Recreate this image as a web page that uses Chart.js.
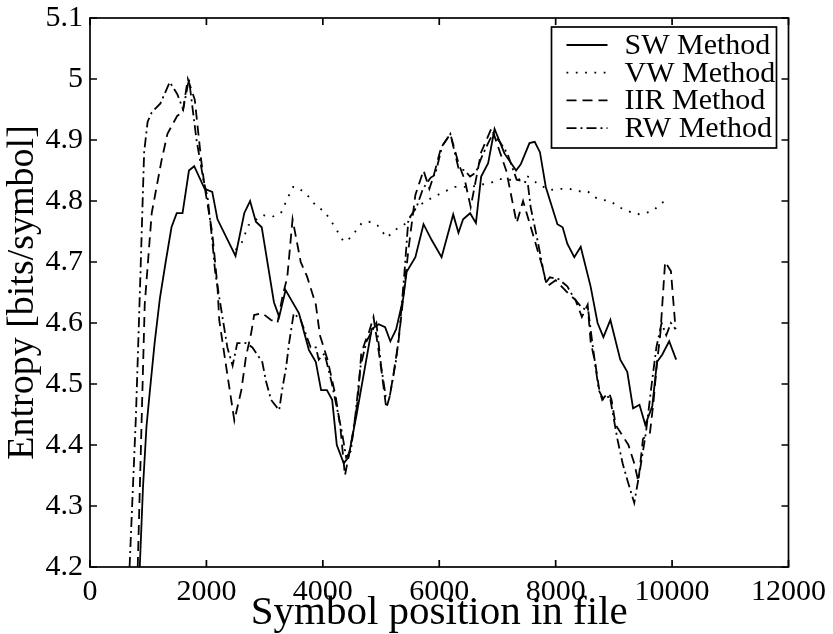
<!DOCTYPE html>
<html>
<head>
<meta charset="utf-8">
<title>Entropy vs symbol position</title>
<script src="https://cdn.jsdelivr.net/npm/chart.js@4.4.1/dist/chart.umd.min.js"></script>
<style>
  html, body { margin: 0; padding: 0; background: #fff; }
  #wrap { width: 833px; height: 634px; }
</style>
</head>
<body>
<div id="wrap"><canvas id="chart" width="833" height="634"></canvas></div>
<script>
// --- data ---
const xTicks = [0, 2000, 4000, 6000, 8000, 10000, 12000];
const xTickLabels = ['0', '2000', '4000', '6000', '8000', '10000', '12000'];
const yTicks = [4.2, 4.3, 4.4, 4.5, 4.6, 4.7, 4.8, 4.9, 5.0, 5.1];
const yTickLabels = ['4.2', '4.3', '4.4', '4.5', '4.6', '4.7', '4.8', '4.9', '5', '5.1'];

const seriesNames = ['SW Method', 'VW Method', 'IIR Method', 'RW Method'];

const swX = [855, 910, 970, 1030, 1110, 1200, 1300, 1400, 1490, 1590,
  1700, 1790, 1970, 2100, 2190, 2500, 2650, 2750, 2850, 2950,
  3160, 3250, 3360, 3590, 3760, 3880, 3970, 4070, 4160, 4240,
  4360, 4440, 4580, 4840, 4960, 5070, 5160, 5260, 5380, 5440,
  5590, 5730, 5870, 6040, 6240, 6330, 6410, 6530, 6630, 6720,
  6840, 6950, 7120, 7320, 7400, 7550, 7640, 7730, 7830, 8030,
  8120, 8200, 8320, 8430, 8600, 8720, 8820, 8940, 9110, 9230,
  9330, 9440, 9540, 9660, 9740, 9830, 9950, 10070];
const swY = [4.2, 4.33, 4.43, 4.49, 4.567, 4.64, 4.70, 4.757, 4.78, 4.78,
  4.85, 4.857, 4.82, 4.815, 4.77, 4.71, 4.78, 4.80, 4.766, 4.757,
  4.634, 4.61, 4.654, 4.616, 4.556, 4.536, 4.49, 4.49, 4.474, 4.40,
  4.37, 4.38, 4.45, 4.59, 4.598, 4.593, 4.57, 4.59, 4.64, 4.684,
  4.708, 4.762, 4.736, 4.708, 4.778, 4.748, 4.77, 4.78, 4.764, 4.84,
  4.862, 4.918, 4.878, 4.85, 4.86, 4.895, 4.897, 4.88, 4.823, 4.762,
  4.757, 4.73, 4.708, 4.725, 4.66, 4.6, 4.577, 4.605, 4.54, 4.52,
  4.46, 4.466, 4.433, 4.464, 4.536, 4.548, 4.57, 4.54];

const vwX = [2500, 2600, 2720, 2960, 3130, 3280, 3400, 3490, 3560, 3730,
  3900, 4020, 4190, 4360, 4480, 4670, 4820, 4940, 5100, 5250,
  5440, 5610, 5810, 6100, 6270, 6530, 6890, 7040, 7320, 7520,
  7730, 7900, 8070, 8240, 8410, 8550, 8670, 8800, 8940, 9090,
  9230, 9390, 9540, 9690, 9810, 9950];
const vwY = [4.72, 4.73, 4.76, 4.777, 4.774, 4.78, 4.806, 4.823, 4.823, 4.81,
  4.79, 4.784, 4.76, 4.733, 4.74, 4.764, 4.766, 4.76, 4.74, 4.753,
  4.764, 4.79, 4.802, 4.816, 4.823, 4.823, 4.83, 4.836, 4.834, 4.84,
  4.826, 4.818, 4.82, 4.82, 4.816, 4.816, 4.806, 4.802, 4.8, 4.79,
  4.784, 4.778, 4.78, 4.785, 4.797, 4.8];

const iirX = [820, 940, 1060, 1230, 1330, 1500, 1590, 1680, 1800, 1910,
  1970, 2100, 2190, 2220, 2340, 2480, 2600, 2680, 2770, 2820,
  2960, 3110, 3220, 3300, 3390, 3480, 3620, 3730, 3880, 3950,
  4080, 4220, 4300, 4380, 4440, 4500, 4560, 4600, 4660, 4730,
  4790, 4870, 4950, 5010, 5090, 5150, 5220, 5300, 5380, 5470,
  5590, 5730, 5830, 5900, 6030, 6190, 6330, 6440, 6540, 6720,
  6900, 7150, 7330, 7440, 7780, 7850, 8000, 8100, 8240, 8340,
  8450, 8550, 8600, 8680, 8750, 8800, 8850, 8920, 8960, 9030,
  9250, 9350, 9420, 9500, 9620, 9680, 9740, 9800, 9880, 9980,
  10060];
const iirY = [4.2, 4.63, 4.78, 4.867, 4.91, 4.94, 4.944, 5.0, 4.966, 4.867,
  4.823, 4.748, 4.66, 4.605, 4.528, 4.44, 4.49, 4.545, 4.584, 4.613,
  4.616, 4.605, 4.60, 4.64, 4.676, 4.77, 4.70, 4.676, 4.63, 4.58,
  4.54, 4.48, 4.43, 4.35, 4.38, 4.41, 4.446, 4.474, 4.55, 4.57,
  4.584, 4.61, 4.56, 4.52, 4.46, 4.48, 4.52, 4.57, 4.64, 4.72,
  4.81, 4.85, 4.82, 4.84, 4.887, 4.91, 4.862, 4.834, 4.79, 4.88,
  4.92, 4.85, 4.764, 4.80, 4.69, 4.66, 4.67, 4.66, 4.646, 4.638,
  4.61, 4.63, 4.57, 4.534, 4.49, 4.474, 4.48, 4.485, 4.474, 4.433,
  4.40, 4.37, 4.34, 4.41, 4.42, 4.47, 4.534, 4.584, 4.70, 4.685,
  4.59];

const rwX = [680, 790, 860, 930, 990, 1060, 1210, 1370, 1500, 1600,
  1700, 1830, 1950, 2020, 2100, 2150, 2270, 2360, 2450, 2530,
  2680, 2790, 2960, 3020, 3110, 3250, 3300, 3370, 3420, 3500,
  3620, 3790, 3880, 3930, 4030, 4150, 4330, 4400, 4480, 4560,
  4650, 4750, 4920, 5000, 5080, 5150, 5260, 5320, 5400, 5470,
  5610, 5720, 5850, 5930, 6050, 6190, 6330, 6440, 6530, 6630,
  6720, 6840, 6920, 7040, 7170, 7330, 7520, 7570, 7700, 7780,
  7830, 7900, 8050, 8200, 8320, 8450, 8560, 8640, 8740, 8820,
  8930, 9060, 9150, 9230, 9350, 9450, 9550, 9650, 9730, 9820,
  9900, 9980, 10060];
const rwY = [4.2, 4.45, 4.66, 4.88, 4.93, 4.945, 4.96, 4.995, 4.975, 4.95,
  5.0, 4.9, 4.834, 4.806, 4.736, 4.684, 4.613, 4.56, 4.53, 4.567,
  4.567, 4.56, 4.536, 4.506, 4.474, 4.457, 4.49, 4.528, 4.567, 4.616,
  4.605, 4.56, 4.56, 4.54, 4.55, 4.503, 4.42, 4.38, 4.39, 4.45,
  4.53, 4.57, 4.6, 4.53, 4.48, 4.48, 4.54, 4.59, 4.68, 4.77,
  4.79, 4.82, 4.838, 4.843, 4.89, 4.91, 4.854, 4.85, 4.84, 4.847,
  4.87, 4.895, 4.91, 4.897, 4.878, 4.835, 4.83, 4.79, 4.73, 4.69,
  4.666, 4.675, 4.672, 4.66, 4.64, 4.625, 4.62, 4.56, 4.49, 4.475,
  4.48, 4.41, 4.37, 4.343, 4.305, 4.36, 4.42, 4.50, 4.56, 4.60,
  4.58, 4.6, 4.59];

const FONT = '"Liberation Serif", "Times New Roman", serif';

function pts(xs, ys) {
  return xs.map((x, i) => ({ x: x, y: ys[i] }));
}

function line(label, xs, ys, dash) {
  return {
    label: label,
    data: pts(xs, ys),
    borderColor: '#000',
    borderWidth: 1.8,
    borderDash: dash,
    borderCapStyle: 'butt',
    pointRadius: 0,
    tension: 0,
    fill: false
  };
}

// box around the plot with inward ticks on all four sides (matlab look)
const frame = {
  id: 'frame',
  afterDraw(chart) {
    const { ctx, chartArea: a, scales } = chart;
    const tl = 7;
    ctx.save();
    ctx.strokeStyle = '#000';
    ctx.lineWidth = 1.7;
    ctx.setLineDash([]);
    ctx.strokeRect(a.left, a.top, a.right - a.left, a.bottom - a.top);
    ctx.beginPath();
    xTicks.forEach(v => {
      const px = scales.x.getPixelForValue(v);
      ctx.moveTo(px, a.bottom); ctx.lineTo(px, a.bottom - tl);
      ctx.moveTo(px, a.top); ctx.lineTo(px, a.top + tl);
    });
    yTicks.forEach(v => {
      const py = scales.y.getPixelForValue(v);
      ctx.moveTo(a.left, py); ctx.lineTo(a.left + tl, py);
      ctx.moveTo(a.right, py); ctx.lineTo(a.right - tl, py);
    });
    ctx.stroke();
    ctx.restore();
  }
};

// legend box in the top right corner
const boxLegend = {
  id: 'boxLegend',
  afterDraw(chart) {
    const { ctx, chartArea: a } = chart;
    const w = 225, h = 121;
    const left = a.right - 12 - w, top = a.top + 9;
    ctx.save();
    ctx.fillStyle = '#fff';
    ctx.fillRect(left, top, w, h);
    ctx.strokeStyle = '#000';
    ctx.lineWidth = 1.7;
    ctx.setLineDash([]);
    ctx.strokeRect(left, top, w, h);
    ctx.font = '30px ' + FONT;
    ctx.textBaseline = 'middle';
    ctx.fillStyle = '#000';
    chart.data.datasets.forEach((ds, i) => {
      const y = top + 18 + i * 27.7;
      ctx.beginPath();
      ctx.setLineDash(ds.borderDash || []);
      ctx.lineWidth = 1.8;
      ctx.moveTo(left + 15, y);
      ctx.lineTo(left + 56, y);
      ctx.stroke();
      ctx.setLineDash([]);
      ctx.fillText(ds.label, left + 73, y + 1);
    });
    ctx.restore();
  }
};

new Chart(document.getElementById('chart'), {
  type: 'line',
  data: {
    datasets: [
      line(seriesNames[0], swX, swY, []),
      line(seriesNames[1], vwX, vwY, [1.8, 7.5]),
      line(seriesNames[2], iirX, iirY, [10, 6]),
      line(seriesNames[3], rwX, rwY, [10, 4, 2, 4])
    ]
  },
  options: {
    responsive: false,
    animation: false,
    devicePixelRatio: 1,
    layout: { padding: { top: 18, right: 41, left: 0, bottom: 0 } },
    plugins: { legend: { display: false }, tooltip: { enabled: false } },
    scales: {
      x: {
        type: 'linear',
        min: 0, max: 12000,
        afterBuildTicks: s => { s.ticks = xTicks.map(v => ({ value: v })); },
        afterFit: s => { s.height = 67; },
        grid: { display: false, drawTicks: false },
        border: { display: false },
        ticks: {
          color: '#000', padding: 7, maxRotation: 0, autoSkip: false,
          font: { family: FONT, size: 30 },
          callback: (v, i) => xTickLabels[i]
        },
        title: {
          display: true, text: 'Symbol position in file', color: '#000',
          font: { family: FONT, size: 41, lineHeight: 1.02 }, padding: { top: 0, bottom: 0 }
        }
      },
      y: {
        type: 'linear',
        min: 4.2, max: 5.1,
        afterBuildTicks: s => { s.ticks = yTicks.map(v => ({ value: v })); },
        afterFit: s => { s.width = 90; },
        grid: { display: false, drawTicks: false },
        border: { display: false },
        ticks: {
          color: '#000', padding: 7, autoSkip: false,
          font: { family: FONT, size: 30, lineHeight: 0.7 },
          callback: (v, i) => yTickLabels[i]
        },
        title: {
          display: true, text: 'Entropy [bits/symbol]', color: '#000',
          font: { family: FONT, size: 38 }, padding: { top: 0, bottom: 0 }
        }
      }
    }
  },
  plugins: [frame, boxLegend]
});
</script>
</body>
</html>
